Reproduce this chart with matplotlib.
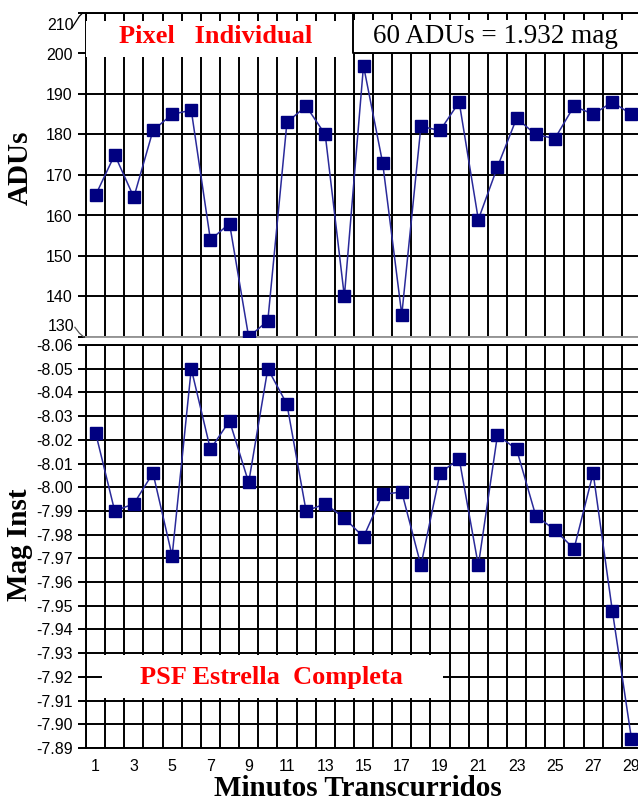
import numpy as np
import matplotlib
matplotlib.use("Agg")
import matplotlib.pyplot as plt
from matplotlib.patches import Rectangle
from matplotlib.ticker import MultipleLocator

minutos = list(range(1, 30))
adus = [165, 175, 164.5, 181, 185, 186, 154, 158, 130, 134,
        183, 187, 180, 140, 197, 173, 135.5, 182, 181, 188,
        159, 172, 184, 180, 179, 187, 185, 188, 185]
mag_inst = [-8.023, -7.990, -7.993, -8.006, -7.971, -8.050, -8.016, -8.028, -8.002, -8.050,
            -8.035, -7.990, -7.993, -7.987, -7.979, -7.997, -7.998, -7.967, -8.006, -8.012,
            -7.967, -8.022, -8.016, -7.988, -7.982, -7.974, -8.006, -7.948, -7.894]
adu_ticks = list(range(130, 211, 10))
mag_ticks = [round(-8.06 + 0.01 * i, 2) for i in range(18)]
x_labels = list(range(1, 30, 2))

W, H = 638, 801
fig = plt.figure(figsize=(W / 100, H / 100), dpi=100)

def px_axes(x0, y0, x1, y1):
    return fig.add_axes([x0 / W, 1 - y1 / H, (x1 - x0) / W, (y1 - y0) / H])

serif = "Liberation Serif"
sans = "Liberation Sans"
line_col = "#2a2a9a"
mark_col = "#000080"
tick_fs = 11.5

def style(ax):
    ax.set_xlim(0.5, 29.5)
    ax.xaxis.set_minor_locator(MultipleLocator(1, offset=0.5))
    ax.grid(True, which="minor", axis="x", color="black", lw=1.4)
    ax.grid(True, which="major", axis="y", color="black", lw=1.4)
    ax.tick_params(axis="x", which="both", length=0)
    ax.tick_params(axis="y", length=6, width=1.4, direction="out", labelsize=tick_fs)
    for lab in ax.get_yticklabels():
        lab.set_fontfamily(sans)
    for s in ax.spines.values():
        s.set_linewidth(1.4)
    ax.set_axisbelow(True)

# top panel: ADUs
ax1 = px_axes(86, 13, 641, 337)
ax1.plot(minutos, adus, color=line_col, lw=1.1, marker="s", ms=8.5,
         mfc=mark_col, mec=mark_col, clip_on=True, zorder=5)
ax1.set_ylim(130, 210)
ax1.set_yticks(adu_ticks)
# end labels sit a bit inside the axis (broken-axis look), drawn by hand
ax1.set_yticklabels(["" if t in (adu_ticks[0], adu_ticks[-1]) else str(t) for t in adu_ticks])
ax1.set_xticks([])
style(ax1)
ax1.spines["bottom"].set_color("#999999")
ax1.annotate(str(adu_ticks[-1]), xy=(0, adu_ticks[-1]), xycoords=("axes fraction", "data"),
             xytext=(-12, -13), textcoords="offset pixels", ha="right", va="center",
             fontsize=tick_fs, family=sans, annotation_clip=False)
ax1.annotate(str(adu_ticks[0]), xy=(0, adu_ticks[0]), xycoords=("axes fraction", "data"),
             xytext=(-12, 10), textcoords="offset pixels", ha="right", va="center",
             fontsize=tick_fs, family=sans, annotation_clip=False)
# break marks
ax1.plot([-0.025, -0.012, -0.006], [0.955, 0.99, 1.0], transform=ax1.transAxes,
         color="black", lw=0.9, clip_on=False)
ax1.plot([-0.02, -0.012, -0.004, 0], [0.03, 0.012, 0.0, 0.0], transform=ax1.transAxes,
         color="#555555", lw=0.9, clip_on=False)

# white boxes over the grid
ax1.add_patch(Rectangle((0, 0.865), 0.481, 0.11, transform=ax1.transAxes,
                        facecolor="white", edgecolor="none", zorder=3))
ax1.add_patch(Rectangle((0.481, 0.877), 0.6, 0.1, transform=ax1.transAxes,
                        facecolor="white", edgecolor="none", zorder=3))
ax1.plot([0.481, 0.481, 1.0], [1.0, 0.877, 0.877], transform=ax1.transAxes,
         color="black", lw=1.4, zorder=4, clip_on=False)
ax1.text(0.234, 0.929, "Pixel   Individual", transform=ax1.transAxes, color="#ff0000",
         fontsize=19, fontweight="bold", family=serif, ha="center", va="center", zorder=6)
ax1.text(0.737, 0.929, "60 ADUs = 1.932 mag", transform=ax1.transAxes, color="black",
         fontsize=19.5, family=serif, ha="center", va="center", zorder=6)

# bottom panel: magnitude
ax2 = px_axes(86, 345, 641, 748)
ax2.plot(minutos, mag_inst, color=line_col, lw=1.1, marker="s", ms=8.5,
         mfc=mark_col, mec=mark_col, zorder=5)
ax2.set_ylim(-7.89, -8.06)
ax2.set_yticks(mag_ticks)
ax2.set_yticklabels([f"{t:.2f}" for t in mag_ticks])
ax2.set_xticks(x_labels)
ax2.set_xticklabels([str(v) for v in x_labels], fontsize=tick_fs, family=sans)
style(ax2)
ax2.tick_params(axis="x", pad=8)

ax2.add_patch(Rectangle((0.029, 0.124), 0.614, 0.106, transform=ax2.transAxes,
                        facecolor="white", edgecolor="none", zorder=3))
ax2.text(0.335, 0.176, "PSF Estrella  Completa", transform=ax2.transAxes, color="#ff0000",
         fontsize=19, fontweight="bold", family=serif, ha="center", va="center", zorder=6)

fig.text(20 / W, 1 - 168 / H, "ADUs", rotation=90, fontsize=21, fontweight="bold",
         family=serif, ha="center", va="center")
fig.text(20 / W, 1 - 545 / H, "Mag Inst", rotation=90, fontsize=21, fontweight="bold",
         family=serif, ha="center", va="center")
fig.text(358 / W, 1 - 788 / H, "Minutos Transcurridos", fontsize=21, fontweight="bold",
         family=serif, ha="center", va="center")

fig.savefig("out.png", dpi=100, facecolor="white")
